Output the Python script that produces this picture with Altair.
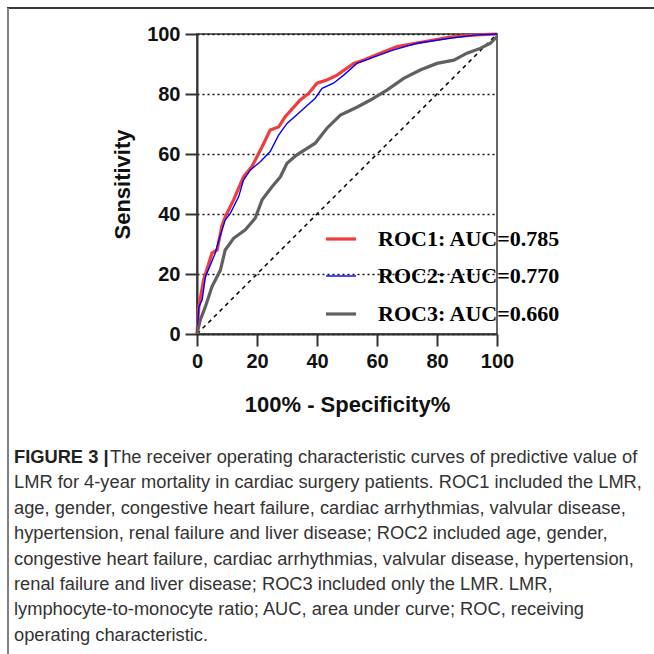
import altair as alt
import pandas as pd

# ROC curves: x = 100% - Specificity%, y = Sensitivity (%)
roc1_x = [0, 0.6, 2.2, 5.0, 6.7, 8.3, 9.4, 12.2, 15.5, 18.3, 21.7, 24.4, 27.2, 29.4, 34.4, 37.2, 40.0, 43.3, 46.7, 52.2, 55.6, 61.1, 66.7, 75.6, 84.4, 93.3, 100]
roc1_y = [0, 9.0, 18.0, 27.0, 28.0, 36.0, 39.0, 44.7, 52.4, 55.8, 62.4, 68.0, 69.0, 72.4, 78.0, 80.2, 83.6, 84.7, 86.3, 90.2, 91.3, 93.6, 95.8, 97.4, 99.0, 99.7, 100]

roc2_x = [0, 0.6, 1.7, 2.8, 6.1, 7.2, 9.4, 11.1, 13.9, 15.5, 17.8, 21.1, 24.4, 27.2, 30.0, 34.4, 39.4, 41.7, 45.5, 48.9, 53.3, 59.1, 65.6, 73.3, 84.4, 93.3, 100]
roc2_y = [0, 9.0, 11.3, 19.0, 27.0, 31.0, 38.0, 40.2, 45.8, 51.3, 54.7, 57.4, 60.8, 66.3, 70.2, 74.1, 78.6, 81.9, 83.6, 86.3, 90.2, 92.4, 94.7, 96.9, 98.6, 99.7, 100]

roc3_x = [0, 1.1, 2.8, 5.0, 7.8, 9.4, 12.2, 16.1, 19.4, 21.7, 25.0, 27.8, 30.0, 33.3, 36.7, 39.4, 43.3, 47.8, 53.3, 57.8, 63.3, 68.9, 74.4, 80.0, 85.6, 90.0, 94.4, 97.8, 100]
roc3_y = [0, 4.7, 9.1, 15.8, 21.3, 28.0, 31.9, 34.7, 38.6, 44.7, 49.1, 52.4, 56.9, 59.7, 61.9, 63.6, 68.6, 73.0, 75.6, 78.0, 81.3, 85.2, 88.0, 90.2, 91.3, 93.6, 95.2, 96.9, 99.1]

series_labels = ["ROC1: AUC=0.785", "ROC2: AUC=0.770", "ROC3: AUC=0.660"]
series_colors = ["#f23c3c", "#0000ff", "#606060"]
series_widths = [3.2, 1.4, 3.2]

diag_x = [0, 100]
diag_y = [0, 100]

tick_values = [0, 20, 40, 60, 80, 100]

caption_head = "FIGURE 3 |"
caption_lines = [
    "The receiver operating characteristic curves of predictive value of",
    "LMR for 4-year mortality in cardiac surgery patients. ROC1 included the LMR,",
    "age, gender, congestive heart failure, cardiac arrhythmias, valvular disease,",
    "hypertension, renal failure and liver disease; ROC2 included age, gender,",
    "congestive heart failure, cardiac arrhythmias, valvular disease, hypertension,",
    "renal failure and liver disease; ROC3 included only the LMR. LMR,",
    "lymphocyte-to-monocyte ratio; AUC, area under curve; ROC, receiving",
    "operating characteristic.",
]

rows = []
for lab, xs, ys in zip(series_labels, [roc1_x, roc2_x, roc3_x], [roc1_y, roc2_y, roc3_y]):
    for i, (a, b) in enumerate(zip(xs, ys)):
        rows.append({"series": lab, "fpr": a, "tpr": b, "i": i})
df = pd.DataFrame(rows)

AX_FONT = "Liberation Sans"

x_enc = alt.X(
    "fpr:Q",
    scale=alt.Scale(domain=[0, 100], nice=False),
    axis=alt.Axis(
        values=tick_values, title="100% - Specificity%", grid=False,
        tickSize=12, tickWidth=2, tickColor="#333", domainWidth=2, domainColor="#333",
        labelFont=AX_FONT, labelFontSize=20, labelFontWeight="bold", labelColor="#111",
        labelPadding=5, labelFlush=False,
        titleFont=AX_FONT, titleFontSize=22, titleFontWeight="bold", titleColor="#111",
        titleX=150, titleY=70, titleBaseline="middle", titleAlign="center",
    ),
)
y_enc = alt.Y(
    "tpr:Q",
    scale=alt.Scale(domain=[0, 100], nice=False),
    axis=alt.Axis(
        values=tick_values, title="Sensitivity", grid=True,
        gridDash=[2, 3], gridColor="#111", gridWidth=1.5,
        tickSize=12, tickWidth=2, tickColor="#333", domainWidth=2, domainColor="#333",
        labelFont=AX_FONT, labelFontSize=20, labelFontWeight="bold", labelColor="#111",
        labelPadding=5, labelFlush=False,
        titleFont=AX_FONT, titleFontSize=22, titleFontWeight="bold", titleColor="#111",
        titleX=-75, titleY=150, titleAngle=270, titleBaseline="middle", titleAlign="center",
    ),
)

legend_opts = dict(
    orient="none", legendX=127, legendY=188, title=None,
    symbolType="stroke", symbolSize=900,
    labelFont="Liberation Serif", labelFontSize=22, labelFontWeight="bold",
    labelColor="black", labelOffset=20, rowPadding=10, padding=0, labelLimit=400,
)

lines = alt.Chart(df).mark_line().encode(
    x=x_enc,
    y=y_enc,
    color=alt.Color(
        "series:N",
        scale=alt.Scale(domain=series_labels, range=series_colors),
        legend=alt.Legend(**legend_opts),
    ),
    strokeWidth=alt.StrokeWidth(
        "series:N",
        scale=alt.Scale(type="ordinal", domain=series_labels, range=series_widths),
        legend=alt.Legend(**legend_opts),
    ),
    order=alt.Order("i:Q"),
)

diag = alt.Chart(pd.DataFrame({"fpr": diag_x, "tpr": diag_y})).mark_line(
    color="black", strokeDash=[4, 4], strokeWidth=1.5
).encode(x="fpr:Q", y="tpr:Q")

one = pd.DataFrame({"a": [0]})
frame_top = alt.Chart(one).mark_rule(color="#3c3c3c", strokeWidth=2).encode(
    x=alt.value(-190), x2=alt.value(460), y=alt.value(-26)
)
frame_left = alt.Chart(one).mark_rule(color="#808080", strokeWidth=2).encode(
    x=alt.value(-189), y=alt.value(-26), y2=alt.value(630)
)

CAP_FONT = "Liberation Sans"
CAP_SIZE = 18.3
cap_layers = []
cap_y0 = 424
cap_dy = 25.4
cap_layers.append(
    alt.Chart(one).mark_text(
        align="left", baseline="middle", font=CAP_FONT, fontSize=CAP_SIZE,
        fontWeight="bold", color="#222"
    ).encode(x=alt.value(-183), y=alt.value(cap_y0), text=alt.value(caption_head))
)
for k, line in enumerate(caption_lines):
    xpos = -87 if k == 0 else -183
    cap_layers.append(
        alt.Chart(one).mark_text(
            align="left", baseline="middle", font=CAP_FONT, fontSize=CAP_SIZE,
            color="#333"
        ).encode(x=alt.value(xpos), y=alt.value(cap_y0 + cap_dy * k), text=alt.value(line))
    )

chart = alt.layer(diag, lines, frame_top, frame_left, *cap_layers).properties(
    width=300, height=300,
    autosize=alt.AutoSizeParams(type="none"),
    padding={"left": 197, "top": 34, "right": 157, "bottom": 320},
    background="white",
).configure_view(stroke="#333", strokeWidth=1.5)

chart.save("out.html", embed_options={"renderer": "svg", "actions": False})
